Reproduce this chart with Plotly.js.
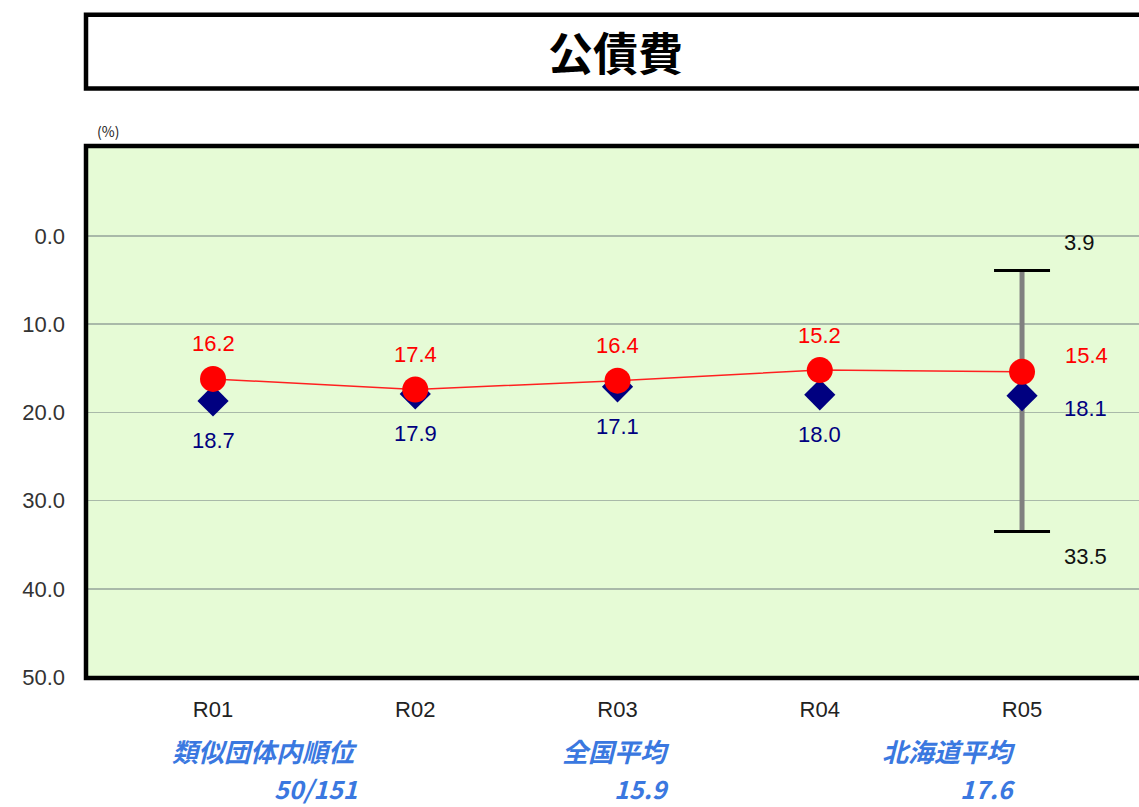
<!DOCTYPE html>
<html><head><meta charset="utf-8">
<script src="https://cdn.plot.ly/plotly-3.0.1.min.js"></script>
<style>html,body{margin:0;padding:0;overflow:hidden;background:#fff;}#c{width:1145px;height:807px;}</style>
</head><body><div id="c"></div>
<script>
const categories = ["R01","R02","R03","R04","R05"];
const cityValues = [16.2, 17.4, 16.4, 15.2, 15.4];
const similarAvg = [18.7, 17.9, 17.1, 18.0, 18.1];
const rangeMin = 3.9;
const rangeMax = 33.5;
const yTicks = [0,10,20,30,40,50];
const yTickText = ["0.0","10.0","20.0","30.0","40.0","50.0"];
const chartTitle = "公債費";
const footerLabels = ["類似団体内順位","全国平均","北海道平均"];
const footerValues = ["50/151","15.9","17.6"];

const lastIdx = categories.length - 1;
const lastCat = categories[lastIdx];
const jp = '"Noto Sans CJK JP", sans-serif';
const num = '"Liberation Sans", Arial, sans-serif';

const traces = [
  {x:[lastCat,lastCat], y:[rangeMin,rangeMax], mode:'lines', line:{color:'#808080', width:5}, hoverinfo:'skip', showlegend:false},
  {x:[lastCat,lastCat], y:[rangeMin,rangeMax], mode:'markers', marker:{symbol:'line-ew', size:40, line:{color:'#000', width:3}}, hoverinfo:'skip', showlegend:false},
  {x:categories, y:similarAvg, mode:'markers', marker:{symbol:'diamond', size:24, color:'#000080'}, showlegend:false},
  {x:categories, y:cityValues, mode:'lines+markers', line:{color:'#ff2020', width:1.5}, marker:{symbol:'circle', size:26, color:'#ff0000'}, showlegend:false}
];

const ann = [];
categories.forEach((c,i)=>{
  const last = i===lastIdx;
  ann.push({x:c, y:cityValues[i], xref:'x', yref:'y', text:cityValues[i].toFixed(1), showarrow:false, yanchor:'middle',
    xshift:last?64:0, yshift:last?16:35, font:{family:num, size:22, color:'#ff0000'}});
  ann.push({x:c, y:similarAvg[i], xref:'x', yref:'y', text:similarAvg[i].toFixed(1), showarrow:false, yanchor:'middle',
    xshift:last?63:0, yshift:last?-13:-40, font:{family:num, size:22, color:'#000080'}});
});
ann.push({x:lastCat, y:rangeMin, xref:'x', yref:'y', text:rangeMin.toFixed(1), showarrow:false, yanchor:'middle', xshift:57, yshift:28, font:{family:num, size:22, color:'#111'}});
ann.push({x:lastCat, y:rangeMax, xref:'x', yref:'y', text:rangeMax.toFixed(1), showarrow:false, yanchor:'middle', xshift:63, yshift:-25, font:{family:num, size:22, color:'#111'}});
ann.push({x:0.5, y:(678-50)/533, xref:'paper', yref:'paper', yanchor:'middle', text:'<b>'+chartTitle+'</b>', showarrow:false, font:{family:jp, size:45, color:'#000'}});
ann.push({x:0.0, y:(678-130)/533, xref:'paper', yref:'paper', xanchor:'left', yanchor:'middle', xshift:9, text:'(%)', showarrow:false, font:{family:jp, size:14, color:'#222'}});
const footX = [0.2587, 0.5533, 0.8801];
footerLabels.forEach((t,i)=>{
  ann.push({x:footX[i], y:(678-751)/533, xref:'paper', yref:'paper', xanchor:'right', yanchor:'middle', text:'<b><i>'+t+'</i></b>', showarrow:false, font:{family:jp, size:26, color:'#3a78e0'}});
  ann.push({x:footX[i], y:(678-788)/533, xref:'paper', yref:'paper', xanchor:'right', yanchor:'middle', text:'<b><i>'+footerValues[i]+'</i></b>', showarrow:false, font:{family:jp, size:25, color:'#3a78e0'}});
});

const layout = {
  width:1145, height:807,
  margin:{l:86, r:0, t:146, b:129},
  paper_bgcolor:'#fff', plot_bgcolor:'#e6fbd6',
  xaxis:{type:'category', categoryorder:'array', categoryarray:categories, range:[-0.628, 4.608], showgrid:false, zeroline:false, showline:false,
    tickfont:{family:num, size:22, color:'#222'}, ticks:'', ticklabelstandoff:16, fixedrange:true},
  yaxis:{range:[50.1,-10.2], tickvals:yTicks, ticktext:yTickText, showgrid:true, gridcolor:'#a9b9a9', gridwidth:1.5,
    zeroline:false, showline:false, tickfont:{family:num, size:22, color:'#333'}, ticks:'', ticklabelstandoff:20, fixedrange:true},
  shapes:[
    {type:'rect', xref:'paper', yref:'paper', x0:0, x1:1, y0:0, y1:1, line:{color:'#000', width:4.5}, layer:'above'},
    {type:'rect', xref:'paper', yref:'paper', x0:0, x1:1.02, y0:(678-87.5)/533, y1:(678-13.5)/533, line:{color:'#000', width:4.5}, fillcolor:'rgba(0,0,0,0)'}
  ],
  annotations:ann,
  showlegend:false
};
Plotly.newPlot('c', traces, layout, {displayModeBar:false, staticPlot:true});
</script></body></html>
